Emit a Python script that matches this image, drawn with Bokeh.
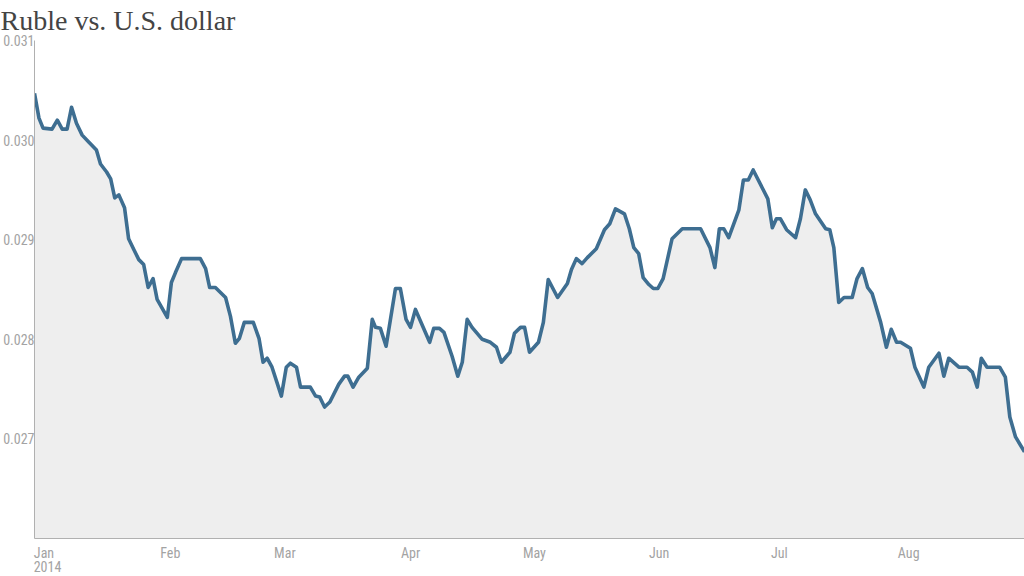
from bokeh.plotting import figure
from bokeh.models import Range1d, FixedTicker, PrintfTickFormatter, CustomJSTickFormatter, LinearAxis
from bokeh.embed import file_html
from bokeh.resources import INLINE

# Days since 2014-01-01 and RUB per USD value
days = [0.0, 1.1, 2.1, 4.3, 5.6, 6.8, 8.0, 9.1, 10.3, 11.7, 13.3, 15.2, 16.2, 17.7, 18.7,
        19.7, 20.7, 22.1, 23.1, 24.4, 25.6, 26.8, 27.9, 29.1, 30.1, 32.6, 33.6, 34.6, 36.1,
        40.7, 42.0, 43.0, 44.4, 46.9, 48.1, 49.3, 50.3, 51.5, 53.7, 55.1, 56.1, 57.1, 58.3,
        60.6, 61.8, 62.8, 64.3, 65.3, 67.7, 69.0, 70.0, 71.2, 72.5, 74.7, 76.1, 76.9, 78.2,
        79.6, 81.7, 82.9, 83.7, 84.9, 86.3, 88.6, 89.8, 91.2, 92.3, 93.5, 97.0, 98.0, 99.4,
        100.5, 102.5, 103.9, 105.0, 106.2, 107.4, 109.9, 111.9, 113.4, 114.6, 116.7, 117.8,
        119.3, 120.3, 121.5, 123.7, 124.9, 126.1, 128.4, 130.8, 131.8, 133.0, 134.4, 135.7,
        137.9, 139.9, 141.2, 142.6, 144.8, 146.0, 147.1, 148.3, 149.4, 150.8, 151.9, 153.0,
        154.3, 156.5, 159.0, 163.5, 165.8, 167.0, 168.1, 169.2, 170.4, 172.9, 174.0, 175.2,
        176.4, 180.0, 181.1, 182.1, 183.1, 184.6, 186.8, 188.0, 189.2, 190.4, 191.7, 194.2,
        195.2, 196.2, 197.4, 198.7, 200.7, 201.9, 203.2, 204.5, 205.6, 207.7, 209.1, 210.3,
        211.6, 212.6, 215.0, 216.1, 218.3, 219.5, 222.0, 223.2, 224.4, 226.9, 228.9, 230.2,
        231.4, 232.4, 233.8, 236.9, 238.3, 239.4, 240.8, 243.0]

rate = [0.03047, 0.03022, 0.03012, 0.03011, 0.03020, 0.03011, 0.03011, 0.03033, 0.03017,
        0.03005, 0.02998, 0.02990, 0.02976, 0.02968, 0.02961, 0.02942, 0.02945, 0.02932,
        0.02901, 0.02890, 0.02880, 0.02875, 0.02852, 0.02861, 0.02840, 0.02822, 0.02857,
        0.02867, 0.02881, 0.02881, 0.02871, 0.02852, 0.02852, 0.02842, 0.02823, 0.02796,
        0.02801, 0.02817, 0.02817, 0.02801, 0.02777, 0.02781, 0.02772, 0.02743, 0.02772,
        0.02776, 0.02772, 0.02752, 0.02752, 0.02743, 0.02742, 0.02732, 0.02737, 0.02755,
        0.02763, 0.02763, 0.02752, 0.02762, 0.02771, 0.02820, 0.02812, 0.02811, 0.02793,
        0.02851, 0.02851, 0.02820, 0.02812, 0.02830, 0.02797, 0.02811, 0.02811, 0.02807,
        0.02783, 0.02763, 0.02777, 0.02820, 0.02812, 0.02800, 0.02797, 0.02792, 0.02777,
        0.02787, 0.02806, 0.02812, 0.02812, 0.02787, 0.02797, 0.02817, 0.02860, 0.02842,
        0.02856, 0.02870, 0.02881, 0.02876, 0.02882, 0.02891, 0.02910, 0.02916, 0.02931,
        0.02926, 0.02911, 0.02892, 0.02886, 0.02862, 0.02855, 0.02851, 0.02851, 0.02861,
        0.02901, 0.02911, 0.02911, 0.02892, 0.02872, 0.02911, 0.02911, 0.02902, 0.02930,
        0.02960, 0.02960, 0.02970, 0.02941, 0.02912, 0.02921, 0.02921, 0.02910, 0.02902,
        0.02921, 0.02950, 0.02940, 0.02926, 0.02911, 0.02910, 0.02892, 0.02837, 0.02842,
        0.02842, 0.02861, 0.02871, 0.02852, 0.02846, 0.02817, 0.02792, 0.02810, 0.02797,
        0.02797, 0.02791, 0.02772, 0.02752, 0.02772, 0.02786, 0.02763, 0.02781, 0.02772,
        0.02772, 0.02767, 0.02752, 0.02781, 0.02772, 0.02772, 0.02762, 0.02722, 0.02702,
        0.02687]

month_days = [0, 31, 59, 90, 120, 151, 181, 212]
month_labels = ["Jan", "Feb", "Mar", "Apr", "May", "Jun", "Jul", "Aug"]
year_label = "2014"
y_ticks = [0.027, 0.028, 0.029, 0.030, 0.031]

# ---- layout / style ----
Y_MIN, Y_MAX = 0.026, 0.031
X_MAX = 243
FRAME_W = 990
PX_PER_DAY = FRAME_W / X_MAX
# half label widths in px: used to make centred tick labels start at the month tick
label_half_px = [9.5, 9.5, 10, 9.5, 11, 9.5, 7.5, 10.5]
year_half_px = 13
TICK_FONT = "'Liberation Sans Narrow', 'Roboto Condensed', Roboto, sans-serif"
TICK_COLOR = "#a3a3a3"
AXIS_COLOR = "#b0b0b0"

p = figure(width=1024, height=576, output_backend="svg", toolbar_location=None,
           x_range=Range1d(0, X_MAX), y_range=Range1d(Y_MIN, Y_MAX),
           min_border_left=34, min_border_right=0, min_border_top=40, min_border_bottom=38)

p.title.text = "Ruble vs. U.S. dollar"
p.title.text_font = "Liberation Serif"
p.title.text_font_size = "28px"
p.title.text_font_style = "normal"
p.title.text_color = "#444444"
p.title.align = "left"
p.title.vertical_align = "top"
p.title.offset = -34
p.title.standoff = 6

p.background_fill_color = "white"
p.border_fill_color = "white"
p.outline_line_color = None
p.xgrid.visible = False
p.ygrid.visible = False

p.varea(x=days, y1=Y_MIN, y2=rate, fill_color="#eeeeee")
p.line(x=days, y=rate, line_color="#3e6e91", line_width=3.6, line_join="round")

yax = p.yaxis[0]
yax.ticker = FixedTicker(ticks=y_ticks)
yax.formatter = PrintfTickFormatter(format="%.3f")
yax.major_tick_line_color = None
yax.minor_tick_line_color = None
yax.major_tick_out = 0
yax.major_tick_in = 0
yax.major_label_standoff = 0
yax.axis_line_color = AXIS_COLOR
yax.major_label_text_font = TICK_FONT
yax.major_label_text_font_size = "14px"
yax.major_label_text_color = TICK_COLOR

xax = p.xaxis[0]
xax.ticker = FixedTicker(ticks=[d + h / PX_PER_DAY for d, h in zip(month_days, label_half_px)])
xax.formatter = CustomJSTickFormatter(args=dict(labels=month_labels), code="return labels[index]")
xax.major_tick_line_color = None
xax.minor_tick_line_color = None
xax.major_tick_out = 0
xax.major_tick_in = 0
xax.major_label_standoff = 6
xax.axis_line_color = AXIS_COLOR
xax.major_label_text_font = TICK_FONT
xax.major_label_text_font_size = "14px"
xax.major_label_text_color = TICK_COLOR

yr = LinearAxis(ticker=FixedTicker(ticks=[month_days[0] + year_half_px / PX_PER_DAY]),
                formatter=CustomJSTickFormatter(args=dict(labels=[year_label]), code="return labels[index]"))
yr.axis_line_color = None
yr.major_tick_line_color = None
yr.minor_tick_line_color = None
yr.major_tick_out = 0
yr.major_tick_in = 0
yr.major_label_standoff = -3
yr.major_label_text_font = TICK_FONT
yr.major_label_text_font_size = "14px"
yr.major_label_text_color = TICK_COLOR
p.add_layout(yr, "below")

open("out.html", "w").write(file_html(p, INLINE))
